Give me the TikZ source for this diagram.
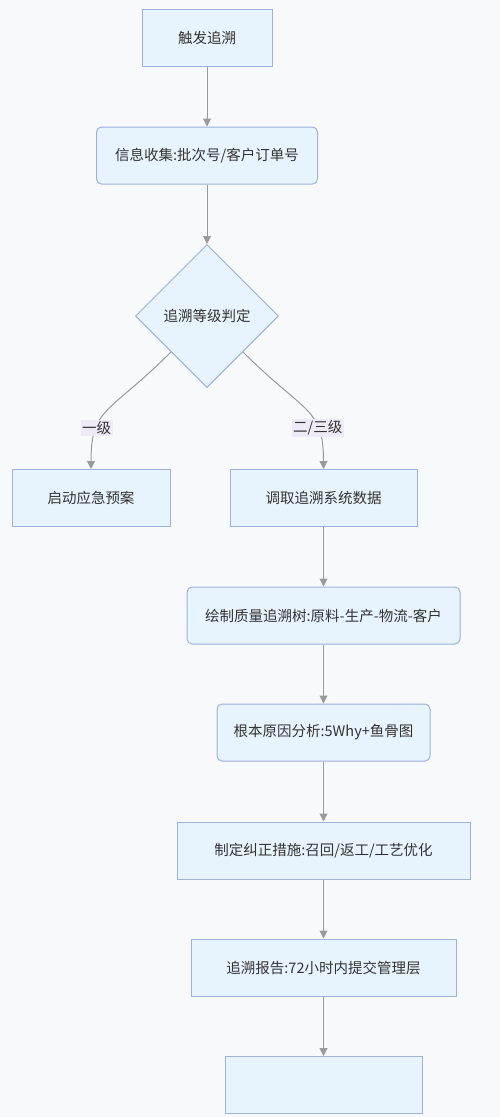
\documentclass[tikz,border=0pt]{standalone}
\usepackage{fontspec}
\setmainfont{Noto Sans CJK SC}
\usetikzlibrary{shapes.geometric,arrows.meta}
\definecolor{bgc}{HTML}{F8F9FA}
\definecolor{boxfill}{HTML}{E8F4FD}
\definecolor{boxline}{HTML}{9EB2DC}
\definecolor{arrowc}{HTML}{9A9A9A}
\definecolor{txt}{HTML}{333333}
\definecolor{lblfill}{HTML}{EFEAF7}
\begin{document}
\begin{tikzpicture}[x=1pt,y=-1pt,font=\fontsize{14.5}{16}\selectfont,text=txt,
  box/.style={draw=boxline,fill=boxfill,line width=1pt,inner sep=0pt,minimum height=57pt},
  rbox/.style={box,rounded corners=5pt},
  judgebox/.style={diamond,draw=boxline,fill=boxfill,line width=1pt,inner sep=0pt,aspect=1,minimum size=143pt},
  link/.style={draw=arrowc,line width=1pt,-{Triangle[width=8pt,length=8pt]}},
  lbl/.style={fill=lblfill,inner sep=1.5pt}]
\fill[bgc] (0,0) rectangle (500,1117);
\useasboundingbox (0,0) rectangle (500,1117);
\node[box,minimum width=130pt] (start) at (207,37.5) {触发追溯};
\node[rbox,minimum width=221pt] (info) at (207,155.5) {信息收集:批次号/客户订单号};
\node[judgebox] (level) at (207,316) {追溯等级判定};
\node[box,minimum width=158pt] (plan) at (91,498) {启动应急预案};
\node[box,minimum width=187pt] (fetch) at (323.5,498) {调取追溯系统数据};
\node[rbox,minimum width=273pt] (tree) at (323.5,615.5) {绘制质量追溯树:原料-生产-物流-客户};
\node[rbox,minimum width=213pt] (cause) at (323.5,732.5) {根本原因分析:5Why+鱼骨图};
\node[box,minimum width=293pt] (action) at (323.5,850.5) {制定纠正措施:召回/返工/工艺优化};
\node[box,minimum width=265pt] (report) at (323.5,967.5) {追溯报告:72小时内提交管理层};
\node[box,minimum width=197pt] (last) at (323.5,1085) {};
\draw[link] (start) -- (info);
\draw[link] (info) -- (level);
\draw[link] (level.south west) .. controls +(-62,62) and +(0,-62) .. (plan.north) node[lbl,pos=0.7] {一级};
\draw[link] (level.south east) .. controls +(62,62) and +(0,-62) .. (fetch.north) node[lbl,pos=0.7] {二/三级};
\draw[link] (fetch) -- (tree);
\draw[link] (tree) -- (cause);
\draw[link] (cause) -- (action);
\draw[link] (action) -- (report);
\draw[link] (report) -- (last);
\end{tikzpicture}
\end{document}
